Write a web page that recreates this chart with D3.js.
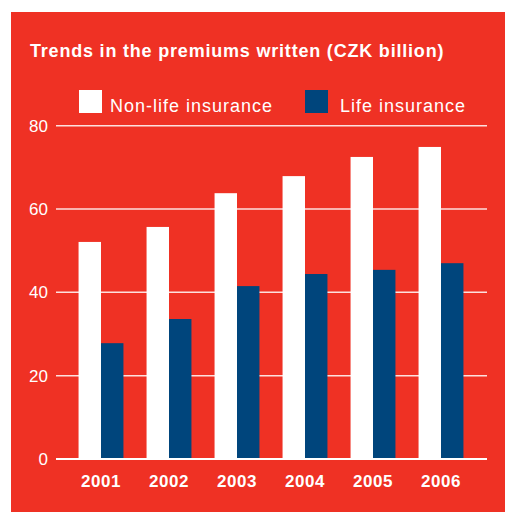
<!DOCTYPE html>
<html>
<head>
<meta charset="utf-8">
<script src="https://cdn.jsdelivr.net/npm/d3@7"></script>
<style>
  html, body { margin: 0; padding: 0; background: #fff; }
  svg { display: block; font-family: "Liberation Sans", Arial, sans-serif; }
</style>
</head>
<body>
<svg id="chart" width="505" height="512"></svg>
<script>
// data
const years = ["2001", "2002", "2003", "2004", "2005", "2006"];
const nonLife = [52.1, 55.7, 63.8, 67.9, 72.5, 74.9];
const life = [27.8, 33.6, 41.5, 44.4, 45.4, 47.0];
const seriesNames = ["Non-life insurance", "Life insurance"];
const yTicks = [0, 20, 40, 60, 80];
const titleText = "Trends in the premiums written (CZK billion)";

const red = "#ef3124", blue = "#00457c";
const svg = d3.select("#chart");

svg.append("rect").attr("x", 11).attr("y", 12).attr("width", 494).attr("height", 500).attr("fill", red);

svg.append("text").attr("x", 30).attr("y", 57)
    .attr("fill", "#fff").attr("font-size", 18).attr("font-weight", "bold")
    .attr("letter-spacing", 0.8)
    .text(titleText);

const x = d3.scaleBand().domain(years).range([67, 475]).paddingInner(0.34).paddingOuter(0.17);
const xSub = d3.scaleBand().domain(seriesNames).range([0, x.bandwidth()]);
const y = d3.scaleLinear().domain([0, 80]).range([459, 125.7]);

// gridlines
const grid = svg.append("g");
grid.selectAll("line").data(yTicks.filter(d => d > 0)).join("line")
    .attr("x1", 56).attr("x2", 487)
    .attr("y1", d => y(d)).attr("y2", d => y(d))
    .attr("stroke", "#fff").attr("stroke-opacity", 0.85).attr("stroke-width", 1.5);

svg.append("g").selectAll("text").data(yTicks).join("text")
    .attr("x", 48).attr("y", d => y(d) + 6)
    .attr("text-anchor", "end").attr("fill", "#fff").attr("font-size", 17)
    .text(d => d);

// bars
const rows = years.map((yr, i) => ({year: yr, values: [
    {name: seriesNames[0], v: nonLife[i], color: "#fff"},
    {name: seriesNames[1], v: life[i], color: blue}
]}));

const groups = svg.append("g").selectAll("g").data(rows).join("g")
    .attr("transform", d => `translate(${x(d.year)},0)`);
groups.selectAll("rect").data(d => d.values).join("rect")
    .attr("x", d => xSub(d.name)).attr("width", xSub.bandwidth())
    .attr("y", d => y(d.v)).attr("height", d => y(0) - y(d.v))
    .attr("fill", d => d.color);

// baseline
svg.append("line").attr("x1", 56).attr("x2", 487).attr("y1", y(0)).attr("y2", y(0))
    .attr("stroke", "#fff").attr("stroke-width", 2);

svg.append("g").selectAll("text").data(years).join("text")
    .attr("x", d => x(d) + x.bandwidth() / 2).attr("y", 487)
    .attr("text-anchor", "middle").attr("fill", "#fff")
    .attr("font-size", 17).attr("font-weight", "bold").attr("letter-spacing", 0.5)
    .text(d => d);

// legend
const legendPos = [79, 305];
const legendTextGap = [31, 35];
const legendColors = ["#fff", blue];
const legend = svg.append("g").selectAll("g").data(seriesNames).join("g")
    .attr("transform", (d, i) => `translate(${legendPos[i]},90)`);
legend.append("rect").attr("width", 23).attr("height", 23).attr("fill", (d, i) => legendColors[i]);
legend.append("text").attr("x", (d, i) => legendTextGap[i]).attr("y", 22)
    .attr("fill", "#fff").attr("font-size", 18).attr("letter-spacing", 1)
    .text(d => d);
</script>
</body>
</html>
